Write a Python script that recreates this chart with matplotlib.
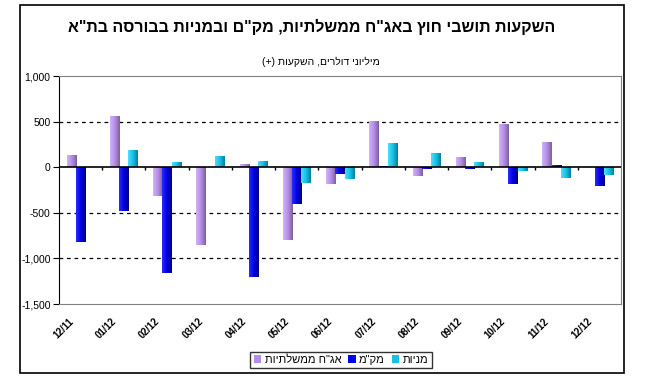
import numpy as np
import matplotlib
matplotlib.use("Agg")
import matplotlib.pyplot as plt
import matplotlib.transforms as mtransforms
from matplotlib.colors import LinearSegmentedColormap
from matplotlib.patches import Rectangle
from matplotlib.ticker import FuncFormatter

plt.rcParams['font.family'] = ['Liberation Sans', 'DejaVu Sans']

# Data (million USD, investments positive)
months = ["12/11", "01/12", "02/12", "03/12", "04/12", "05/12", "06/12",
          "07/12", "08/12", "09/12", "10/12", "11/12", "12/12"]
gov_bonds = [135, 560, -314, -855, 33, -800, -186, 504, -99, 110, 471, 281, 0]
makam = [-825, -475, -1165, 0, -1205, -405, -73, 10, -15, -15, -179, 25, -208]
stocks = [0, 194, 55, 128, 66, -172, -128, 260, 161, 55, -47, -117, -91]

series_names = ['אג"ח ממשלתיות', 'מק"מ', 'מניות']
title = 'השקעות תושבי חוץ באג"ח ממשלתיות, מק"ם ובמניות בבורסה בת"א'
subtitle = 'מיליוני דולרים, השקעות (+)'


def rtl(s):
    # matplotlib has no bidi support: reverse for display, mirror brackets
    mirror = {'(': ')', ')': '('}
    return ''.join(mirror.get(c, c) for c in reversed(s))


# colour ramps (light left edge -> dark right edge), like the Excel 3D bars
ramps = [
    ("#d2b2f8", "#b48ee6", "#7e609e"),
    ("#2a2aff", "#0000e6", "#00007a"),
    ("#48e0ff", "#18c0e6", "#06809e"),
]

fig = plt.figure(figsize=(6.54, 3.91), dpi=100)
fig.patches.append(Rectangle((20 / 654, 18 / 391), 604 / 654, 368 / 391,
                             transform=fig.transFigure, fill=False,
                             edgecolor='black', linewidth=1.2))

ax = fig.add_axes([59 / 654, 87 / 391, 562 / 654, 228 / 391])

x = np.arange(len(months))
w = 0.215
for k, (vals, ramp) in enumerate(zip([gov_bonds, makam, stocks], ramps)):
    cmap = LinearSegmentedColormap.from_list("r%d" % k, ramp)
    bars = ax.bar(x + (k - 1) * w, vals, w, color=ramp[1], linewidth=0,
                  label=rtl(series_names[k]), zorder=2)
    grad = np.linspace(0, 1, 32).reshape(1, -1)
    for b in bars:
        if b.get_height() == 0:
            continue
        x0, y0 = b.get_x(), b.get_y()
        x1, y1 = x0 + b.get_width(), y0 + b.get_height()
        im = ax.imshow(grad, cmap=cmap, aspect='auto', zorder=2.5,
                       extent=(x0, x1, min(y0, y1), max(y0, y1)))
        im.set_clip_path(b)

ax.set_xlim(-0.5, len(months) - 0.5)
ax.set_ylim(-1500, 1000)
ax.set_yticks(np.arange(-1500, 1001, 500))
ax.yaxis.set_major_formatter(FuncFormatter(lambda v, p: f"{v:,.0f}"))
ax.tick_params(axis='y', direction='out', length=4, labelsize=7.5, pad=2)

ax.set_xticks(x)
ax.set_xticklabels(months, rotation=45, ha='right', rotation_mode='anchor',
                   fontsize=7, fontweight='bold')
ax.tick_params(axis='x', length=0, pad=9)
shift = mtransforms.ScaledTranslation(-9 / 72, 0, fig.dpi_scale_trans)
for lbl in ax.get_xticklabels():
    lbl.set_transform(lbl.get_transform() + shift)

for yv in (500, -500, -1000):
    ax.axhline(yv, color='black', linestyle=(0, (3, 3)), linewidth=0.9, zorder=1)
ax.axhline(0, color='black', linewidth=1.2, zorder=3)
ax.vlines(np.arange(0.5, len(months) - 0.5), -35, 0, color='black',
          linewidth=1, zorder=3)

for side in ('top', 'right', 'bottom'):
    ax.spines[side].set_color('#808080')
ax.spines['left'].set_color('black')

fig.text(0.477, 0.931, rtl(title), ha='center', va='center', fontsize=11.5,
         fontweight='bold')
fig.text(0.491, 0.841, rtl(subtitle), ha='center', va='center', fontsize=7.5)

leg = fig.legend(loc='center', bbox_to_anchor=(341 / 654, 0.079), ncol=3,
                 fontsize=8, frameon=True, fancybox=False, edgecolor='black',
                 handlelength=0.7, handleheight=0.7, handletextpad=0.3,
                 columnspacing=0.6, borderpad=0.3)
leg.get_frame().set_linewidth(1)

fig.savefig("out.png", dpi=100)
